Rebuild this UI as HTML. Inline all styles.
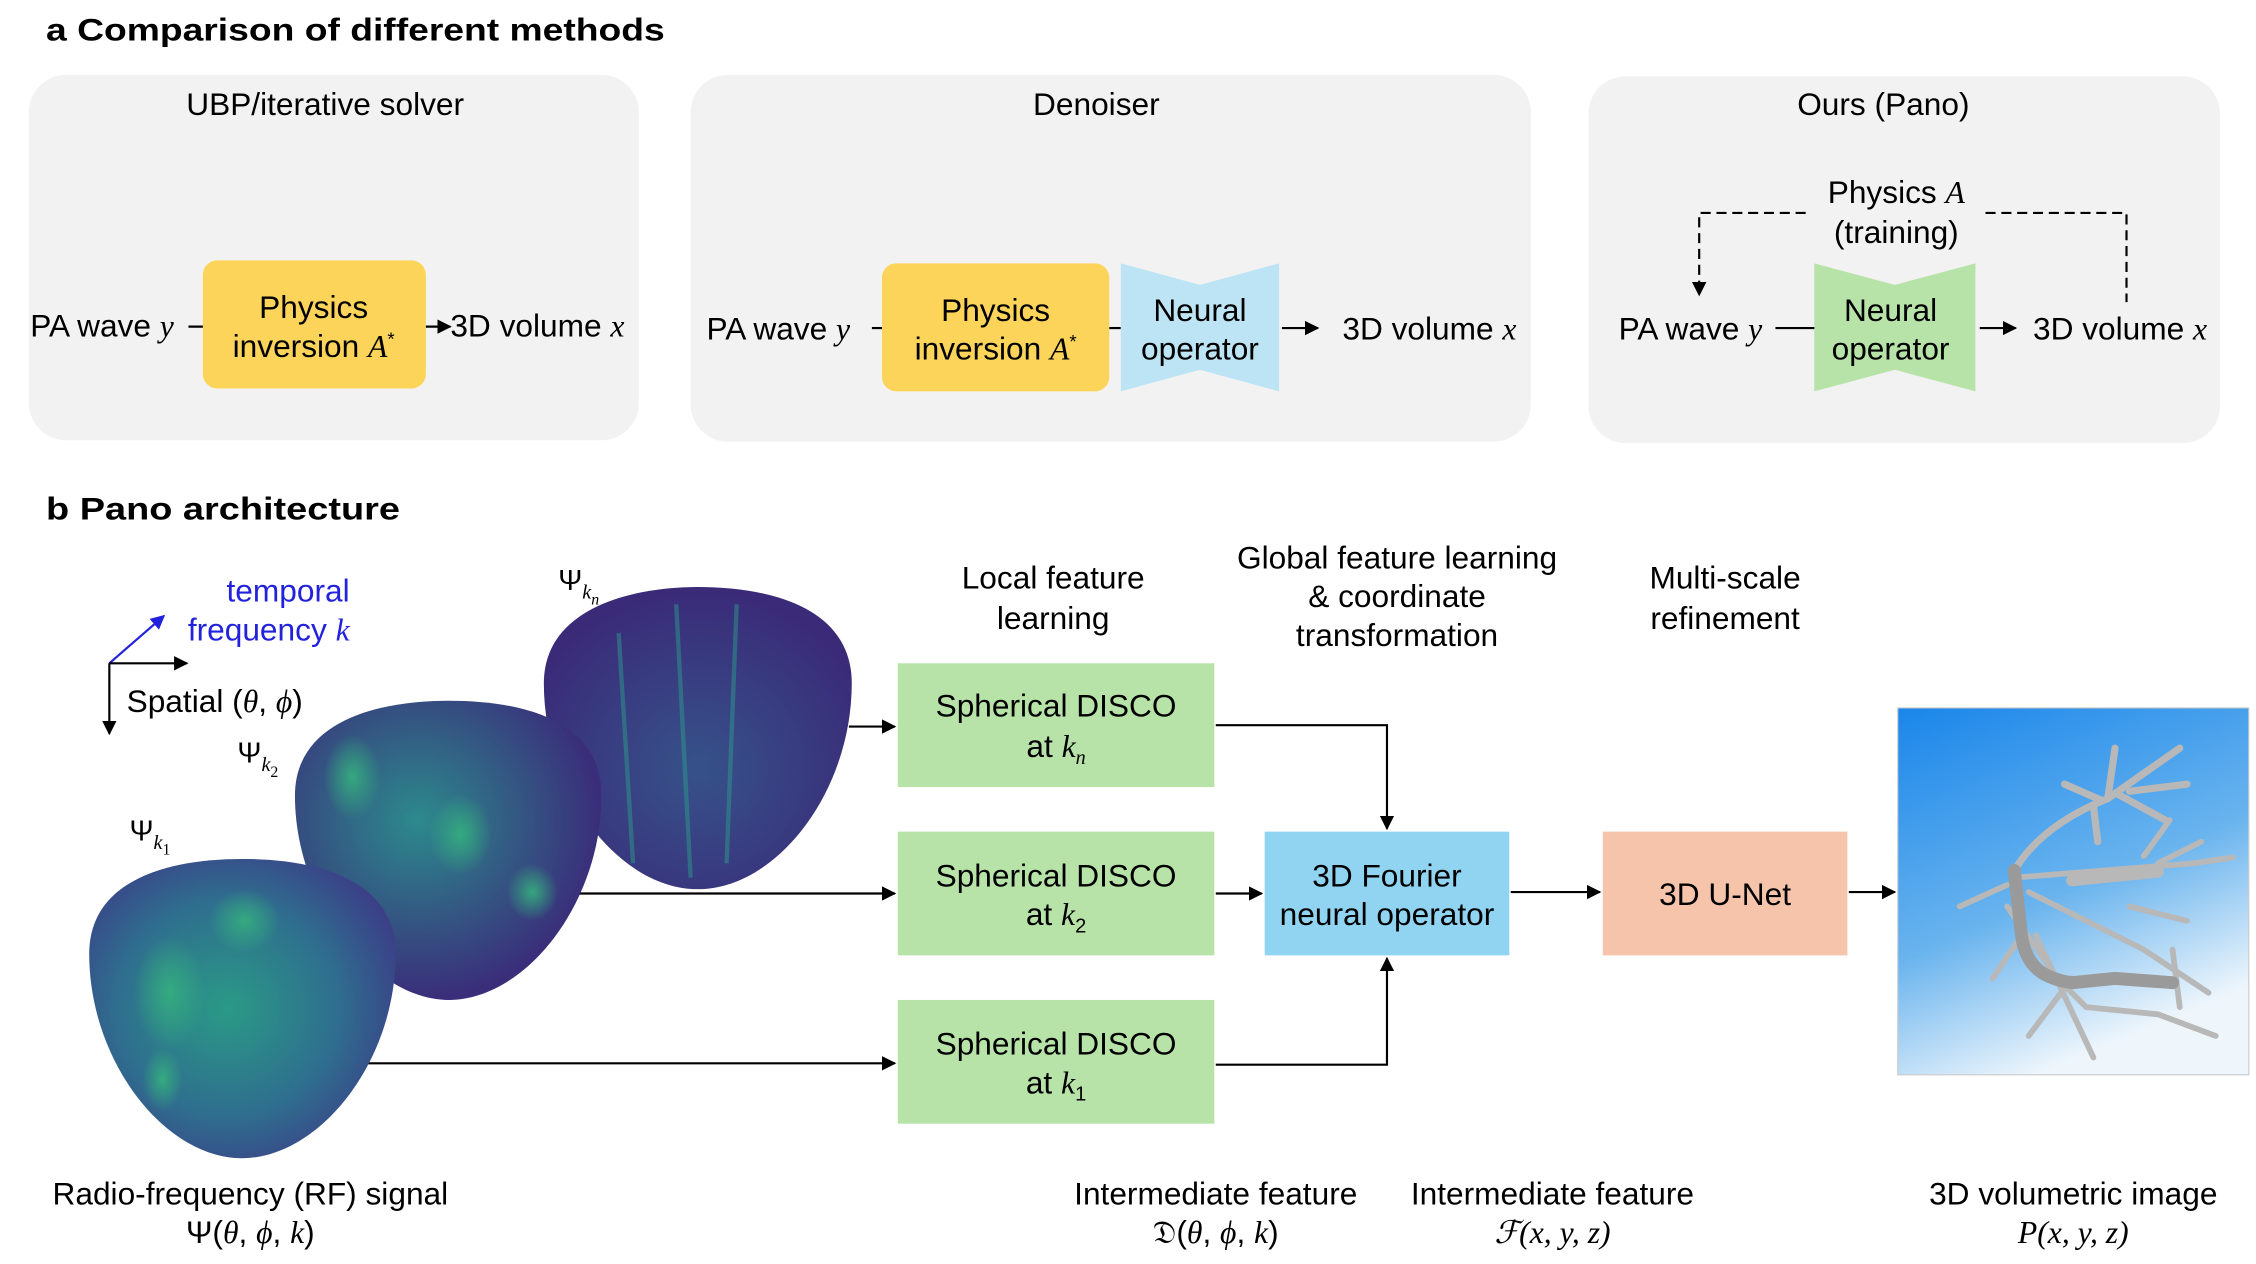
<!DOCTYPE html>
<html><head><meta charset="utf-8"><style>
html,body{margin:0;padding:0;background:#fff}
svg{display:block}
text{font-family:"Liberation Sans",sans-serif;fill:#000}
.m{font-family:"Liberation Serif",serif;font-style:italic}
</style></head><body>
<svg width="2256" height="1264" viewBox="0 0 1568 878.5" xmlns="http://www.w3.org/2000/svg">
<defs>
<marker id="ar" markerWidth="10" markerHeight="10" refX="9" refY="5" orient="auto" markerUnits="userSpaceOnUse"><path d="M0,0 L10,5 L0,10 z" fill="#000"/></marker>
<marker id="ab" markerWidth="10" markerHeight="10" refX="9" refY="5" orient="auto" markerUnits="userSpaceOnUse"><path d="M0,0 L10,5 L0,10 z" fill="#2222dd"/></marker>
<radialGradient id="g1" cx="0.45" cy="0.5" r="0.6"><stop offset="0" stop-color="#2a9a86"/><stop offset="0.6" stop-color="#2f6e8e"/><stop offset="1" stop-color="#3b3f87"/></radialGradient>
<radialGradient id="g2" cx="0.4" cy="0.4" r="0.6"><stop offset="0" stop-color="#2c8a8c"/><stop offset="1" stop-color="#3a2d7a"/></radialGradient>
<radialGradient id="g3" cx="0.5" cy="0.6" r="0.6"><stop offset="0" stop-color="#36528a"/><stop offset="1" stop-color="#3a2a78"/></radialGradient>
<linearGradient id="sky" x1="0" y1="0" x2="0.4" y2="1"><stop offset="0" stop-color="#1a86ea"/><stop offset="0.6" stop-color="#6ab4ee"/><stop offset="1" stop-color="#eef6fc"/></linearGradient>
<radialGradient id="blob" cx="0.5" cy="0.5" r="0.5"><stop offset="0" stop-color="#35b07e" stop-opacity="0.9"/><stop offset="1" stop-color="#35b07e" stop-opacity="0"/></radialGradient>
</defs>

<text x="32" y="28" font-size="22" font-weight="bold" textLength="430" lengthAdjust="spacingAndGlyphs">a Comparison of different methods</text>
<rect x="20" y="52" width="424" height="254" rx="26" fill="#f2f2f2"/>
<rect x="480" y="52" width="584" height="255" rx="26" fill="#f2f2f2"/>
<rect x="1104" y="53" width="439" height="255" rx="26" fill="#f2f2f2"/>
<g font-size="22" text-anchor="middle">
<text x="226" y="80">UBP/iterative solver</text>
<text x="762" y="80">Denoiser</text>
<text x="1309" y="80">Ours (Pano)</text>
</g>
<text x="21" y="234" font-size="22">PA wave <tspan class="m">y</tspan></text>
<line x1="131" y1="227" x2="142" y2="227" stroke="#000" stroke-width="1.5"/>
<rect x="141" y="181" width="155" height="89" rx="10" fill="#fcd45a"/>
<text x="218" y="221" font-size="22" text-anchor="middle">Physics</text>
<text x="218" y="248" font-size="22" text-anchor="middle">inversion <tspan class="m">A</tspan><tspan font-size="13" dy="-8">*</tspan></text>
<line x1="296" y1="227" x2="313" y2="227" stroke="#000" stroke-width="1.5" marker-end="url(#ar)"/>
<text x="313" y="234" font-size="22">3D volume <tspan class="m">x</tspan></text>
<text x="491" y="236" font-size="22">PA wave <tspan class="m">y</tspan></text>
<line x1="606" y1="228" x2="614" y2="228" stroke="#000" stroke-width="1.5"/>
<rect x="613" y="183" width="158" height="89" rx="10" fill="#fcd45a"/>
<text x="692" y="223" font-size="22" text-anchor="middle">Physics</text>
<text x="692" y="250" font-size="22" text-anchor="middle">inversion <tspan class="m">A</tspan><tspan font-size="13" dy="-8">*</tspan></text>
<line x1="771" y1="228" x2="779" y2="228" stroke="#000" stroke-width="1.5"/>
<path d="M779,183 L834,198 L889,183 L889,272 L834,257 L779,272 z" fill="#bde4f4"/>
<text x="834" y="223" font-size="22" text-anchor="middle">Neural</text>
<text x="834" y="250" font-size="22" text-anchor="middle">operator</text>
<line x1="891" y1="228" x2="916" y2="228" stroke="#000" stroke-width="1.5" marker-end="url(#ar)"/>
<text x="933" y="236" font-size="22">3D volume <tspan class="m">x</tspan></text>
<text x="1318" y="141" font-size="22" text-anchor="middle">Physics <tspan class="m">A</tspan></text>
<text x="1318" y="169" font-size="22" text-anchor="middle">(training)</text>
<path d="M1255,148 L1181,148 L1181,205" fill="none" stroke="#000" stroke-width="1.5" stroke-dasharray="7,4" marker-end="url(#ar)"/>
<path d="M1380,148 L1478,148 L1478,210" fill="none" stroke="#000" stroke-width="1.5" stroke-dasharray="7,4"/>
<text x="1125" y="236" font-size="22">PA wave <tspan class="m">y</tspan></text>
<line x1="1234" y1="228" x2="1262" y2="228" stroke="#000" stroke-width="1.5"/>
<path d="M1261,183 L1317,198 L1373,183 L1373,272 L1317,257 L1261,272 z" fill="#b7e3a8"/>
<text x="1314" y="223" font-size="22" text-anchor="middle">Neural</text>
<text x="1314" y="250" font-size="22" text-anchor="middle">operator</text>
<line x1="1376" y1="228" x2="1401" y2="228" stroke="#000" stroke-width="1.5" marker-end="url(#ar)"/>
<text x="1413" y="236" font-size="22">3D volume <tspan class="m">x</tspan></text>

<text x="32" y="361" font-size="22" font-weight="bold" textLength="246" lengthAdjust="spacingAndGlyphs">b Pano architecture</text>

<text x="243" y="418" font-size="22" style="fill:#2222dd" text-anchor="end">temporal</text>
<text x="243" y="445" font-size="22" style="fill:#2222dd" text-anchor="end">frequency <tspan class="m" style="fill:#2222dd">k</tspan></text>
<line x1="76" y1="461" x2="114" y2="428" stroke="#2222dd" stroke-width="1.5" marker-end="url(#ab)"/>
<line x1="76" y1="461" x2="130" y2="461" stroke="#000" stroke-width="1.5" marker-end="url(#ar)"/>
<line x1="76" y1="461" x2="76" y2="510" stroke="#000" stroke-width="1.5" marker-end="url(#ar)"/>
<text x="88" y="495" font-size="22">Spatial (<tspan class="m">θ</tspan>, <tspan class="m">ϕ</tspan>)</text>

<line x1="590" y1="505" x2="622" y2="505" stroke="#000" stroke-width="1.5" marker-end="url(#ar)"/>
<line x1="400" y1="621" x2="622" y2="621" stroke="#000" stroke-width="1.5" marker-end="url(#ar)"/>
<line x1="255" y1="739" x2="622" y2="739" stroke="#000" stroke-width="1.5" marker-end="url(#ar)"/>

<path d="M378,475 C378,422 440,408 485,408 C535,408 592,422 592,475 C592,550 540,618 485,618 C430,618 378,550 378,475 z" fill="url(#g3)"/>
<path d="M430,440 L440,600 M470,420 L480,610 M512,420 L505,600" stroke="#2d9a8a" stroke-width="3" opacity="0.5"/>
<text x="388" y="410" font-size="20">Ψ<tspan font-size="14" dy="6" class="m">k<tspan font-size="11" dy="4">n</tspan></tspan></text>
<path d="M205,553 C205,500 265,487 312,487 C362,487 418,500 418,553 C418,628 365,695 312,695 C260,695 205,628 205,553 z" fill="url(#g2)"/>
<ellipse cx="245" cy="540" rx="20" ry="30" fill="url(#blob)"/>
<ellipse cx="320" cy="580" rx="22" ry="28" fill="url(#blob)"/>
<ellipse cx="370" cy="620" rx="18" ry="20" fill="url(#blob)"/>
<text x="165" y="530" font-size="20">Ψ<tspan font-size="14" dy="6" class="m">k<tspan font-size="11" dy="4" font-style="normal">2</tspan></tspan></text>
<path d="M62,663 C62,610 120,597 168,597 C218,597 275,610 275,663 C275,738 222,805 168,805 C115,805 62,738 62,663 z" fill="url(#g1)"/>
<ellipse cx="118" cy="690" rx="25" ry="40" fill="url(#blob)"/>
<ellipse cx="170" cy="640" rx="25" ry="22" fill="url(#blob)"/>
<ellipse cx="113" cy="750" rx="14" ry="22" fill="url(#blob)"/>
<text x="90" y="584" font-size="20">Ψ<tspan font-size="14" dy="6" class="m">k<tspan font-size="11" dy="4" font-style="normal">1</tspan></tspan></text>

<g font-size="22" text-anchor="middle">
<text x="732" y="409">Local feature</text>
<text x="732" y="437">learning</text>
<text x="971" y="395">Global feature learning</text>
<text x="971" y="422">&amp; coordinate</text>
<text x="971" y="449">transformation</text>
<text x="1199" y="409">Multi-scale</text>
<text x="1199" y="437">refinement</text>
</g>

<rect x="624" y="461" width="220" height="86" fill="#b7e3a8"/>
<rect x="624" y="578" width="220" height="86" fill="#b7e3a8"/>
<rect x="624" y="695" width="220" height="86" fill="#b7e3a8"/>
<g font-size="22" text-anchor="middle">
<text x="734" y="498">Spherical DISCO</text>
<text x="734" y="526">at <tspan class="m">k<tspan font-size="14" dy="5">n</tspan></tspan></text>
<text x="734" y="616">Spherical DISCO</text>
<text x="734" y="643">at <tspan class="m">k</tspan><tspan font-size="14" dy="5">2</tspan></text>
<text x="734" y="733">Spherical DISCO</text>
<text x="734" y="760">at <tspan class="m">k</tspan><tspan font-size="14" dy="5">1</tspan></text>
</g>
<rect x="879" y="578" width="170" height="86" fill="#90d4f2"/>
<text x="964" y="616" font-size="22" text-anchor="middle">3D Fourier</text>
<text x="964" y="643" font-size="22" text-anchor="middle">neural operator</text>
<rect x="1114" y="578" width="170" height="86" fill="#f5c4aa"/>
<text x="1199" y="629" font-size="22" text-anchor="middle">3D U-Net</text>

<path d="M845,504 L964,504 L964,576" fill="none" stroke="#000" stroke-width="1.5" marker-end="url(#ar)"/>
<line x1="845" y1="621" x2="877" y2="621" stroke="#000" stroke-width="1.5" marker-end="url(#ar)"/>
<path d="M845,740 L964,740 L964,666" fill="none" stroke="#000" stroke-width="1.5" marker-end="url(#ar)"/>
<line x1="1050" y1="620" x2="1112" y2="620" stroke="#000" stroke-width="1.5" marker-end="url(#ar)"/>
<line x1="1285" y1="620" x2="1317" y2="620" stroke="#000" stroke-width="1.5" marker-end="url(#ar)"/>

<rect x="1319" y="492" width="244" height="255" fill="url(#sky)" stroke="#ccc" stroke-width="0.8"/>
<g stroke="#b8b8b8" stroke-linecap="round" fill="none">
<path d="M1400,605 C1415,580 1440,565 1465,555 L1515,520 M1465,555 L1470,520 M1460,556 L1435,545 M1480,550 L1520,545 M1472,552 L1505,570 M1455,560 L1458,585" stroke-width="5"/>
<path d="M1400,610 L1525,600 L1552,596 M1410,620 L1490,660 L1535,690 M1395,630 L1430,680 L1450,700 L1500,705 L1540,720 M1395,615 L1362,630 M1405,650 L1385,680 M1415,650 L1455,735 M1440,680 L1410,720 M1490,595 L1508,570 M1500,600 L1530,585 M1510,660 L1515,700 M1480,630 L1520,640" stroke-width="4"/>
<path d="M1400,605 L1405,650 C1408,672 1420,680 1440,683 L1470,680 L1510,683" stroke="#9a9a9a" stroke-width="9"/>
<path d="M1440,612 L1500,606" stroke-width="8"/>
</g>

<g font-size="22" text-anchor="middle">
<text x="174" y="837">Radio-frequency (RF) signal</text>
<text x="174" y="864">Ψ(<tspan class="m">θ</tspan>, <tspan class="m">ϕ</tspan>, <tspan class="m">k</tspan>)</text>
<text x="845" y="837">Intermediate feature</text>
<text x="845" y="864">𝔇(<tspan class="m">θ</tspan>, <tspan class="m">ϕ</tspan>, <tspan class="m">k</tspan>)</text>
<text x="1079" y="837">Intermediate feature</text>
<text x="1079" y="864" class="m">ℱ(x, y, z)</text>
<text x="1441" y="837">3D volumetric image</text>
<text x="1441" y="864" class="m">P(x, y, z)</text>
</g>
</svg>
</body></html>
